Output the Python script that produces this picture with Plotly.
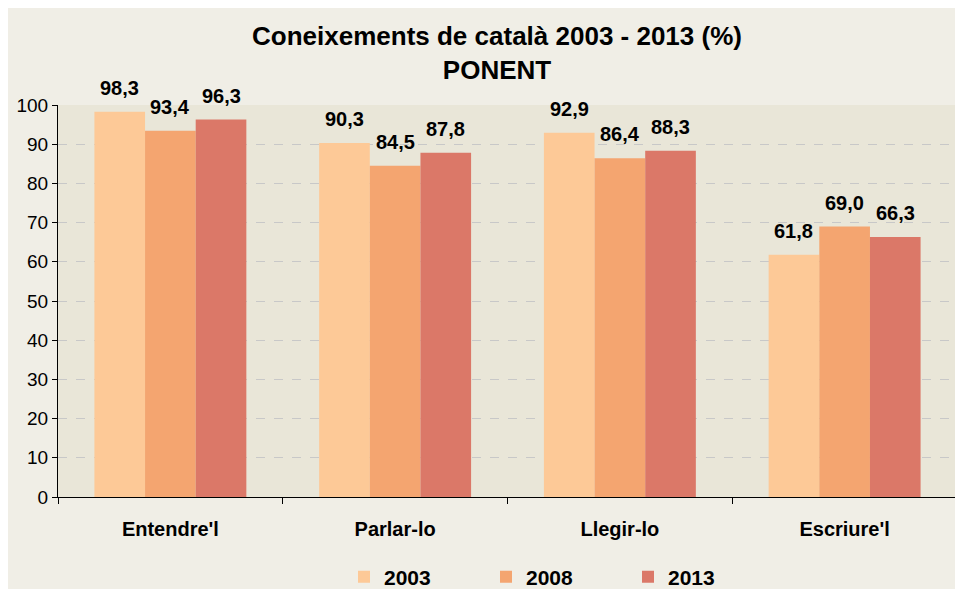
import plotly.graph_objects as go

categories = ["Entendre'l", "Parlar-lo", "Llegir-lo", "Escriure'l"]
years = ["2003", "2008", "2013"]
v2003 = [98.3, 90.3, 92.9, 61.8]
v2008 = [93.4, 84.5, 86.4, 69.0]
v2013 = [96.3, 87.8, 88.3, 66.3]
colors = ["#FDC997", "#F4A570", "#DB7868"]

W, H = 963, 589
ML, MR, MT, MB = 50, 14, 97, 100
PW, PH = W - ML - MR, H - MT - MB
BARGAP = 0.324
bar_px = PW / len(categories) * (1 - BARGAP) / len(years)

fig = go.Figure()
series = [v2003, v2008, v2013]
for name, vals, c in zip(years, series, colors):
    fig.add_trace(go.Bar(
        x=categories, y=vals, name=name, marker=dict(color=c, line=dict(width=0)),
    ))

for i, vals in enumerate(series):
    for cat, v in zip(categories, vals):
        fig.add_annotation(x=cat, y=v, xref="x", yref="y",
                           text="<b>" + f"{v:.1f}".replace(".", ",") + "</b>",
                           showarrow=False, yanchor="bottom", xanchor="center",
                           xshift=(i - 1) * bar_px, yshift=11,
                           font=dict(size=20, family="Arial", color="#000"))

fig.update_layout(
    width=W, height=H,
    barmode="group", bargap=BARGAP, bargroupgap=0,
    paper_bgcolor="#F0EEE6", plot_bgcolor="#E9E6D8",
    margin=dict(l=ML, r=MR, t=MT, b=MB, autoexpand=False),
    font=dict(family="Arial", color="#000"),
    title=dict(text="<b>Coneixements de català 2003 - 2013 (%)<br>PONENT</b>",
               x=489 / W, xanchor="center", y=1 - 37 / H, yanchor="top",
               font=dict(size=26, family="Arial", color="#000")),
    showlegend=True,
    legend=dict(orientation="h", x=(336 - ML) / PW, xanchor="left", y=-80 / PH, yanchor="middle",
                font=dict(size=21, family="Arial", color="#000", weight="bold"),
                itemwidth=30, traceorder="normal", bgcolor="rgba(0,0,0,0)",
                entrywidth=97, entrywidthmode="pixels"),
)
fig.update_xaxes(showline=True, linecolor="#000", linewidth=1, ticks="outside",
                 ticklen=6, tickson="boundaries", tickcolor="#000", automargin=False,
                 tickfont=dict(size=20, family="Arial", weight="bold"), ticklabelstandoff=14)
fig.update_yaxes(range=[0, 100], dtick=10, showline=True, linecolor="#000", linewidth=1,
                 ticks="outside", ticklen=5, tickcolor="#000", automargin=False,
                 gridcolor="#C8C8C8", griddash="dash", gridwidth=1,
                 tickfont=dict(size=19, family="Arial"), zeroline=False)

fig.write_html("out.html")
